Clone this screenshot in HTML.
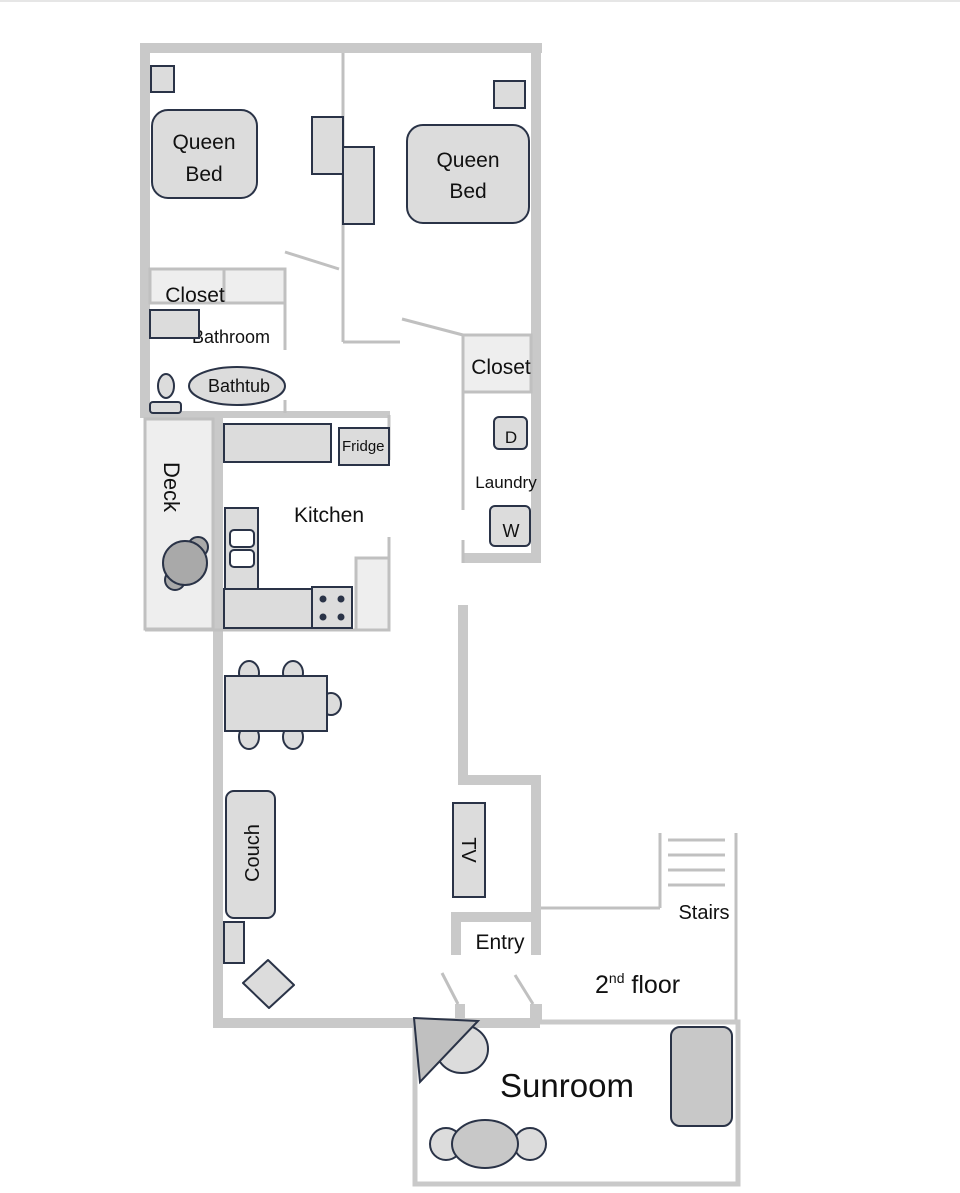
<!DOCTYPE html>
<html><head><meta charset="utf-8"><style>
html,body{margin:0;padding:0;background:#fff;width:960px;height:1193px;overflow:hidden}
text{font-family:"Liberation Sans",sans-serif;fill:#111}
</style></head><body>
<svg width="960" height="1193" viewBox="0 0 960 1193" xmlns="http://www.w3.org/2000/svg">
<rect x="0" y="0" width="960" height="2" fill="#e6e6e6"/>
<g fill="#c9c9c9">
<rect x="140" y="43" width="402" height="10"/>
<rect x="140" y="43" width="10" height="373"/>
<rect x="531" y="43" width="10" height="520"/>
<rect x="463" y="553" width="78" height="10"/>
<rect x="140" y="411" width="250" height="7"/>
<rect x="213" y="418" width="10" height="610"/>
<rect x="458" y="605" width="10" height="180"/>
<rect x="458" y="775" width="83" height="10"/>
<rect x="531" y="775" width="10" height="180"/>
<rect x="451" y="912" width="87" height="10"/>
<rect x="451" y="912" width="10" height="43"/>
<rect x="213" y="1018" width="327" height="10"/>
<rect x="455" y="1004" width="10" height="16"/>
<rect x="530" y="1004" width="12" height="18"/>
</g>
<g stroke="#c0c0c0" stroke-width="3" fill="none">
<line x1="343" y1="53" x2="343" y2="342"/>
<line x1="343" y1="342" x2="400" y2="342"/>
<line x1="285" y1="252" x2="339" y2="269"/>
<line x1="402" y1="319" x2="463" y2="335"/>
<line x1="463" y1="335" x2="463" y2="510"/>
<line x1="463" y1="540" x2="463" y2="563"/>
<line x1="285" y1="269" x2="285" y2="350"/>
<line x1="285" y1="400" x2="285" y2="413"/>
<line x1="389" y1="415" x2="389" y2="460"/>
<line x1="389" y1="537" x2="389" y2="630"/>
<line x1="145" y1="630" x2="390" y2="630"/>
<line x1="442" y1="973" x2="458" y2="1004"/>
<line x1="515" y1="975" x2="533" y2="1004"/>
<line x1="541" y1="908" x2="660" y2="908"/>
<line x1="660" y1="833" x2="660" y2="908"/>
<line x1="736" y1="833" x2="736" y2="1022"/>
<line x1="540" y1="1022" x2="740" y2="1022"/>
<line x1="668" y1="840" x2="725" y2="840"/>
<line x1="668" y1="855" x2="725" y2="855"/>
<line x1="668" y1="870" x2="725" y2="870"/>
<line x1="668" y1="885" x2="725" y2="885"/>
</g>
<rect x="150" y="269" width="135" height="34" fill="#eee" stroke="#c0c0c0" stroke-width="3"/>
<line x1="224" y1="269" x2="224" y2="303" stroke="#c0c0c0" stroke-width="3"/>
<rect x="463" y="335" width="68" height="57" fill="#eee" stroke="#c0c0c0" stroke-width="3"/>
<rect x="145" y="419" width="68" height="210" fill="#eee" stroke="#c0c0c0" stroke-width="3"/>
<rect x="356" y="558" width="33" height="72" fill="#eee" stroke="#c0c0c0" stroke-width="3"/>
<rect x="415" y="1022" width="323" height="162" fill="none" stroke="#c9c9c9" stroke-width="5"/>
<g stroke="#2a3347" stroke-width="2" fill="#dcdcdc">
<rect x="151" y="66" width="23" height="26"/>
<rect x="152" y="110" width="105" height="88" rx="16"/>
<rect x="312" y="117" width="31" height="57"/>
<rect x="343" y="147" width="31" height="77"/>
<rect x="494" y="81" width="31" height="27"/>
<rect x="407" y="125" width="122" height="98" rx="16"/>
<ellipse cx="166" cy="386" rx="8" ry="12"/>
<rect x="150" y="402" width="31" height="11" rx="3"/>
<ellipse cx="237" cy="386" rx="48" ry="19"/>
<rect x="224" y="424" width="107" height="38"/>
<rect x="339" y="428" width="50" height="37"/>
<rect x="225" y="508" width="33" height="82"/>
<rect x="230" y="530" width="24" height="17" rx="4" fill="#fff"/>
<rect x="230" y="550" width="24" height="17" rx="4" fill="#fff"/>
<rect x="224" y="589" width="88" height="39"/>
<rect x="312" y="587" width="40" height="41"/>
<rect x="494" y="417" width="33" height="32" rx="5"/>
<rect x="490" y="506" width="40" height="40" rx="5"/>
<ellipse cx="249" cy="673" rx="10" ry="12"/><ellipse cx="293" cy="673" rx="10" ry="12"/>
<ellipse cx="249" cy="737" rx="10" ry="12"/><ellipse cx="293" cy="737" rx="10" ry="12"/>
<ellipse cx="331" cy="704" rx="10" ry="11"/>
<rect x="225" y="676" width="102" height="55"/>
<rect x="226" y="791" width="49" height="127" rx="8"/>
<rect x="224" y="922" width="20" height="41"/>
<polygon points="268,960 294,985 269,1008 243,983" stroke-linejoin="round"/>
<rect x="453" y="803" width="32" height="94"/>
<ellipse cx="462" cy="1049" rx="26" ry="24"/>
<rect x="671" y="1027" width="61" height="99" rx="9" fill="#c8c8c8"/>
<circle cx="446" cy="1144" r="16"/><circle cx="530" cy="1144" r="16"/>
<ellipse cx="485" cy="1144" rx="33" ry="24" fill="#c8c8c8"/>
<circle cx="198" cy="547" r="10" fill="#a9a9a9"/><circle cx="175" cy="580" r="10" fill="#a9a9a9"/>
<circle cx="185" cy="563" r="22" fill="#a9a9a9"/>
<polygon points="414,1018 478,1021 420,1082" fill="#c0c0c0"/>
</g>
<g fill="#2a3347">
<circle cx="323" cy="599" r="3.5"/><circle cx="341" cy="599" r="3.5"/>
<circle cx="323" cy="617" r="3.5"/><circle cx="341" cy="617" r="3.5"/>
</g>
<g font-size="21" text-anchor="middle">
<text x="204" y="149">Queen</text><text x="204" y="181">Bed</text>
<text x="468" y="167">Queen</text><text x="468" y="198">Bed</text>
<text x="195" y="302">Closet</text>
<text x="501" y="374">Closet</text>
<text x="329" y="522">Kitchen</text>
<text x="500" y="949">Entry</text>
</g>
<text x="192" y="343" font-size="18">Bathroom</text>
<rect x="150" y="310" width="49" height="28" fill="#dcdcdc" stroke="#2a3347" stroke-width="2"/>
<text x="239" y="392" font-size="18" text-anchor="middle">Bathtub</text>
<text x="342" y="451" font-size="15">Fridge</text>
<text x="506" y="488" font-size="17" text-anchor="middle">Laundry</text>
<text x="511" y="443" font-size="17" text-anchor="middle" fill="#555">D</text>
<text x="511" y="537" font-size="18" text-anchor="middle" fill="#555">W</text>
<text transform="translate(164,487) rotate(90)" font-size="22" text-anchor="middle">Deck</text>
<text transform="translate(259,853) rotate(-90)" font-size="20" text-anchor="middle">Couch</text>
<text transform="translate(462,850) rotate(90)" font-size="20" text-anchor="middle">TV</text>
<text x="704" y="919" font-size="20" text-anchor="middle">Stairs</text>
<text x="595" y="993" font-size="25">2<tspan font-size="14" dy="-10">nd</tspan><tspan dy="10"> floor</tspan></text>
<text x="567" y="1097" font-size="33" text-anchor="middle">Sunroom</text>
</svg>
</body></html>
